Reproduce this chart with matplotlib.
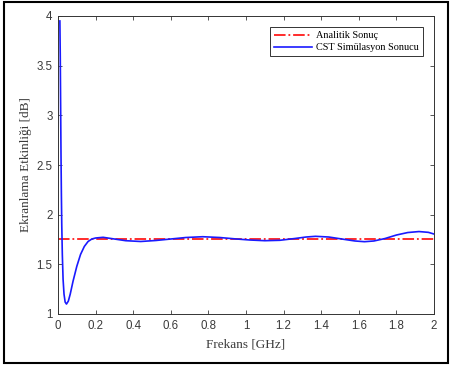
import matplotlib
matplotlib.use("Agg")
import matplotlib.pyplot as plt
import matplotlib.patches as mpatches
import numpy as np

# CST simulation result
freq_ghz = [0.010, 0.012, 0.014, 0.016, 0.018, 0.020, 0.023, 0.027, 0.032, 0.038,
            0.045, 0.055, 0.065, 0.080, 0.100, 0.120, 0.140, 0.160, 0.180, 0.200,
            0.240, 0.300, 0.360, 0.440, 0.520, 0.600, 0.680, 0.770, 0.860, 0.950,
            1.020, 1.100, 1.180, 1.260, 1.320, 1.370, 1.440, 1.520, 1.580, 1.630,
            1.680, 1.740, 1.800, 1.860, 1.920, 1.970, 2.000]
se_cst = [3.95, 3.60, 3.10, 2.60, 2.20, 1.90, 1.60, 1.35, 1.20, 1.12,
          1.10, 1.13, 1.20, 1.33, 1.48, 1.60, 1.68, 1.73, 1.755, 1.765,
          1.772, 1.755, 1.738, 1.730, 1.740, 1.755, 1.770, 1.778, 1.770, 1.755,
          1.745, 1.738, 1.742, 1.760, 1.775, 1.782, 1.775, 1.752, 1.735, 1.728,
          1.735, 1.760, 1.795, 1.820, 1.830, 1.822, 1.805]

# analytic result (constant)
se_analytic = 1.757

x_ticks = [0, 0.2, 0.4, 0.6, 0.8, 1, 1.2, 1.4, 1.6, 1.8, 2]
x_ticklabels = ["0", "0.2", "0.4", "0.6", "0.8", "1", "1.2", "1.4", "1.6", "1.8", "2"]
y_ticks = [1, 1.5, 2, 2.5, 3, 3.5, 4]
y_ticklabels = ["1", "1.5", "2", "2.5", "3", "3.5", "4"]

fig = plt.figure(figsize=(4.5, 3.69), dpi=100)
ax = fig.add_axes([58 / 450, 1 - 314 / 369, 376 / 450, 298 / 369])

ax.axhline(se_analytic, color="#ff1a1a", linestyle="-.", linewidth=1.3,
           label="Analitik Sonuç")
ax.plot(freq_ghz, se_cst, color="#1a1aff", linewidth=1.2,
        label="CST Simülasyon Sonucu")

ax.set_xlim(0, 2)
ax.set_ylim(1, 4)
ax.set_xticks(x_ticks)
ax.set_xticklabels(x_ticklabels)
ax.set_yticks(y_ticks)
ax.set_yticklabels(y_ticklabels)

for lab in ax.get_xticklabels() + ax.get_yticklabels():
    lab.set_family("Liberation Sans")
ax.tick_params(direction="in", top=True, right=True, length=3, width=0.6,
               labelsize=8.3, colors="#3a3a3a", pad=4)
for sp in ax.spines.values():
    sp.set_color("#333333")
    sp.set_linewidth(0.7)

ax.set_xlabel("Frekans [GHz]", family="Liberation Serif", fontsize=9.5,
              color="#3a3a3a", labelpad=5)
ax.set_ylabel("Ekranlama Etkinliği [dB]", family="Liberation Serif", fontsize=9.5,
              color="#3a3a3a", labelpad=3)

leg = ax.legend(loc="upper right", bbox_to_anchor=(0.985, 0.98),
                prop={"family": "Liberation Serif", "size": 7.4},
                fancybox=False, framealpha=1, edgecolor="#333333",
                handlelength=3.7, handletextpad=0.4, borderpad=0.4,
                labelspacing=0.25)
leg.get_frame().set_linewidth(0.7)

# black frame around the picture
frame = mpatches.Rectangle((4 / 450, 1 - 363 / 369), 444 / 450, 361.5 / 369,
                           transform=fig.transFigure, fill=False,
                           edgecolor="black", linewidth=1.5)
fig.patches.append(frame)

fig.savefig("out.png", dpi=100)
plt.close(fig)
